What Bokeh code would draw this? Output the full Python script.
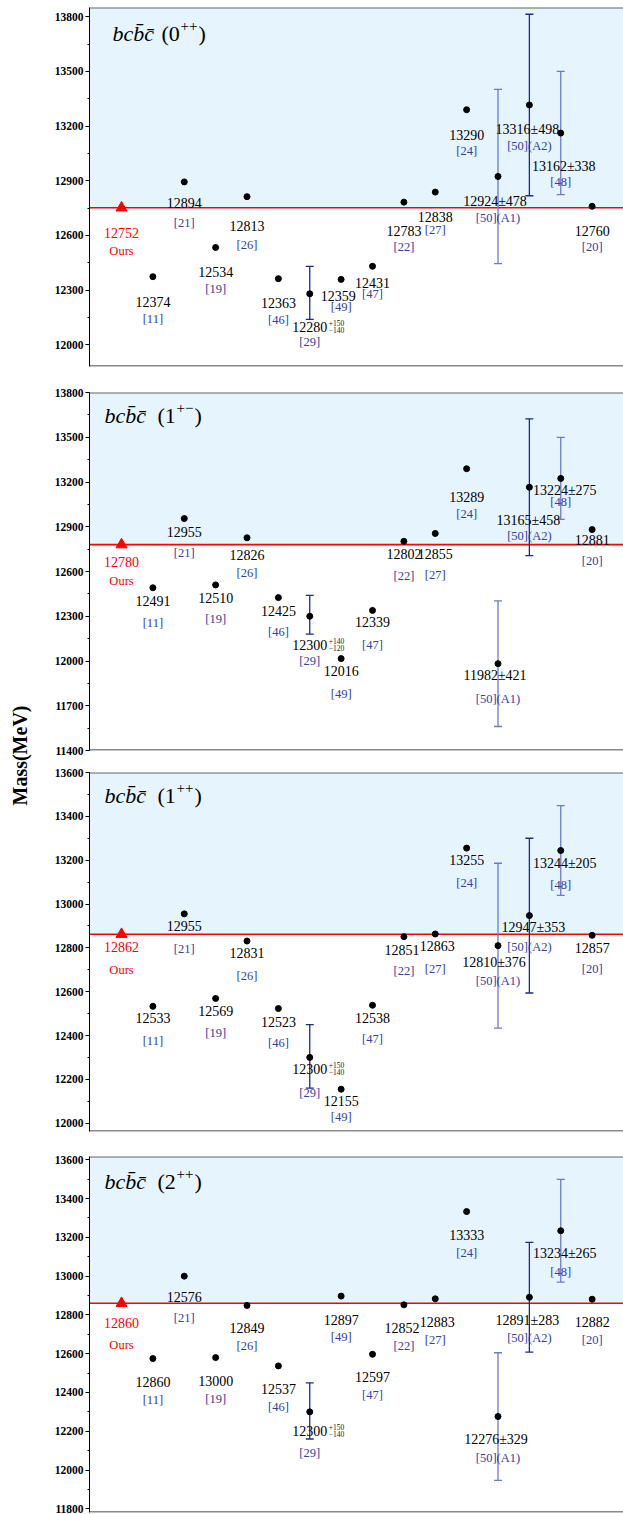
import math
from bokeh.plotting import figure
from bokeh.layouts import row, column
from bokeh.models import ColumnDataSource, Range1d, FixedTicker, BoxAnnotation, Span, Whisker, TeeHead
from bokeh.core.properties import value
from bokeh.embed import file_html
from bokeh.resources import INLINE

# ---------------- data ----------------
refs = ["Ours", "[11]", "[21]", "[19]", "[26]", "[46]", "[29]", "[49]", "[47]",
        "[22]", "[27]", "[24]", "[50](A1)", "[50](A2)", "[48]", "[20]"]
state_j = ["0", "1", "1", "2"]
state_pc = ["++", "+\u2212", "++", "++"]
quark = "bcb\u0304c\u0304"

mass_0pp = [12752, 12374, 12894, 12534, 12813, 12363, 12280, 12359, 12431, 12783, 12838, 13290, 12924, 13316, 13162, 12760]
up_0pp = [0, 0, 0, 0, 0, 0, 150, 0, 0, 0, 0, 0, 478, 498, 338, 0]
dn_0pp = [0, 0, 0, 0, 0, 0, 140, 0, 0, 0, 0, 0, 478, 498, 338, 0]

mass_1pm = [12780, 12491, 12955, 12510, 12826, 12425, 12300, 12016, 12339, 12802, 12855, 13289, 11982, 13165, 13224, 12881]
up_1pm = [0, 0, 0, 0, 0, 0, 140, 0, 0, 0, 0, 0, 421, 458, 275, 0]
dn_1pm = [0, 0, 0, 0, 0, 0, 120, 0, 0, 0, 0, 0, 421, 458, 275, 0]

mass_1pp = [12862, 12533, 12955, 12569, 12831, 12523, 12300, 12155, 12538, 12851, 12863, 13255, 12810, 12947, 13244, 12857]
up_1pp = [0, 0, 0, 0, 0, 0, 150, 0, 0, 0, 0, 0, 376, 353, 205, 0]
dn_1pp = [0, 0, 0, 0, 0, 0, 140, 0, 0, 0, 0, 0, 376, 353, 205, 0]

mass_2pp = [12860, 12575, 13000, 12580, 12849, 12537, 12300, 12897, 12597, 12852, 12883, 13333, 12276, 12891, 13234, 12881]
up_2pp = [0, 0, 0, 0, 0, 0, 150, 0, 0, 0, 0, 0, 329, 283, 265, 0]
dn_2pp = [0, 0, 0, 0, 0, 0, 140, 0, 0, 0, 0, 0, 329, 283, 265, 0]
# printed labels of the 2++ panel (as shown in the figure)
text_2pp = ["12860", "12860", "12576", "13000", "12849", "12537", "12300", "12897", "12597",
            "12852", "12883", "13333", "12276\u00b1329", "12891\u00b1283", "13234\u00b1265", "12882"]

ticks_0pp = [12000, 12300, 12600, 12900, 13200, 13500, 13800]
ticks_1pm = [11400, 11700, 12000, 12300, 12600, 12900, 13200, 13500, 13800]
ticks_1pp = [12000, 12200, 12400, 12600, 12800, 13000, 13200, 13400, 13600]
ticks_2pp = [11800, 12000, 12200, 12400, 12600, 12800, 13000, 13200, 13400, 13600]

# which error bars are drawn in the lighter blue
light_bar = [False] * 12 + [True, False, True, False]

# ---------------- layout / style ----------------
SERIF = "Liberation Serif"
BLUE_TXT = "#33409f"
DARK_BAR = "#1f2a8c"
LIGHT_BAR = "#6c7cc6"
FILL = "#e5f4fd"
X0, X1 = -1.02, 16.0

panels = [
    dict(m=mass_0pp, up=up_0pp, dn=dn_0pp, txt=None, ticks=ticks_0pp, step=150,
         yr=(11881, 13851), h=378, bt=7, bb=12, tdx=(23, 72), tdy=26,
         vdy=[25, 25, 21, 24, 29, 24, 33, 17, 17, 29, 25, 25, 25, 25, 33, 25],
         rdy=[43, 42, 41, 41, 48, 41, 48, 28, 28, 45, 38, 41, 42, 41, 49, 41],
         vdx=[0, 0, 0, 0, 0, 0, 0, -3, 0, 0, 0, 0, -3, -2, 3, 0]),
    dict(m=mass_1pm, up=up_1pm, dn=dn_1pm, txt=None, ticks=ticks_1pm, step=150,
         yr=(11400, 13800), h=383, bt=14, bb=11, tdx=(15, 68), tdy=23,
         vdy=[17, 13, 13, 13, 17, 13, 29, 12, 12, 13, 21, 28, 12, 33, 12, 10],
         rdy=[36, 35, 34, 34, 35, 34, 45, 35, 35, 35, 42, 45, 35, 49, 24, 31],
         vdx=[0, 0, 0, 0, 0, 0, 0, 0, 0, 0, 0, 0, -3, -1, 4, 0]),
    dict(m=mass_1pp, up=up_1pp, dn=dn_1pp, txt=None, ticks=ticks_1pp, step=100,
         yr=(11962, 13600), h=382, bt=11, bb=12, tdx=(15, 68), tdy=23,
         vdy=[13, 12, 12, 13, 12, 13, 12, 12, 13, 13, 12, 12, 17, 12, 13, 13],
         rdy=[36, 35, 35, 35, 35, 34, 36, 28, 34, 34, 35, 35, 35, 31, 34, 34],
         vdx=[0, 0, 0, 0, 0, 0, 0, 0, 0, -2, 2, 0, -4, 4, 4, 0]),
    dict(m=mass_2pp, up=up_2pp, dn=dn_2pp, txt=text_2pp, ticks=ticks_2pp, step=100,
         yr=(11781, 13617), h=371, bt=13, bb=2, tdx=(15, 68), tdy=25,
         vdy=[20, 23, 21, 23, 23, 23, 19, 24, 23, 23, 23, 23, 23, 23, 23, 23],
         rdy=[42, 41, 42, 41, 41, 41, 41, 41, 41, 41, 41, 41, 41, 41, 41, 41],
         vdx=[0, 0, 0, 0, 0, 0, 0, 0, 0, -2, 2, 0, -2, -2, 4, 0]),
]

figs = []
for k, P in enumerate(panels):
    m, up, dn = P["m"], P["up"], P["dn"]
    n = len(m)
    xs = list(range(n))
    lo, hi = P["yr"]
    p = figure(width=585, height=P["h"], x_range=Range1d(X0, X1), y_range=Range1d(lo, hi),
               x_axis_location=None, toolbar_location=None, output_backend="svg",
               min_border_left=51, min_border_right=0, min_border_top=P["bt"],
               min_border_bottom=P["bb"])
    p.outline_line_color = None
    p.grid.visible = False
    ax = p.yaxis[0]
    t = P["ticks"]
    minor = []
    v = t[0] - P["step"]
    while v <= hi:
        if v >= lo:
            minor.append(v)
        v += P["step"]
    ax.ticker = FixedTicker(ticks=t, minor_ticks=minor)
    ax.major_tick_in = 0
    ax.major_tick_out = 4
    ax.minor_tick_in = 0
    ax.minor_tick_out = 2
    ax.major_label_standoff = 2
    ax.axis_line_color = "black"
    ax.major_tick_line_color = "black"
    ax.minor_tick_line_color = "black"
    ax.major_label_text_font = SERIF
    ax.major_label_text_font_style = "bold"
    ax.major_label_text_font_size = "11.5px"
    ax.major_label_text_color = "black"

    ours = m[0]
    p.add_layout(BoxAnnotation(bottom=ours, fill_color=FILL, fill_alpha=1.0, line_color=None, level="underlay"))
    p.add_layout(Span(location=hi, dimension="width", line_color="#666666", line_width=2, level="underlay"))
    p.add_layout(Span(location=lo, dimension="width", line_color="#8a8a8a", line_width=3, level="underlay"))
    p.add_layout(Span(location=ours, dimension="width", line_color="#ff0000", line_width=1.6, level="underlay"))

    # error bars
    for light in (False, True):
        idx = [i for i in range(n) if (up[i] > 0 or dn[i] > 0) and light_bar[i] == light]
        if not idx:
            continue
        col = LIGHT_BAR if light else DARK_BAR
        src = ColumnDataSource(dict(x=[xs[i] for i in idx], u=[m[i] + up[i] for i in idx],
                                    l=[m[i] - dn[i] for i in idx]))
        w = Whisker(base="x", upper="u", lower="l", source=src, line_color=col, line_width=1.3,
                    upper_head=TeeHead(size=8, line_color=col, line_width=1.3),
                    lower_head=TeeHead(size=8, line_color=col, line_width=1.3), level="underlay")
        p.add_layout(w)

    # points
    p.scatter(xs[1:], m[1:], size=6, color="black")
    p.scatter([xs[0]], [m[0]], marker="triangle", size=11, color="#ff0000")

    # value labels
    if P["txt"] is not None:
        vt = list(P["txt"])
    else:
        vt = []
        for i in range(n):
            if up[i] > 0 and up[i] == dn[i]:
                vt.append(f"{m[i]}\u00b1{up[i]}")
            else:
                vt.append(str(m[i]))
    vcol = ["#ff0000"] + ["black"] * (n - 1)
    vsrc = ColumnDataSource(dict(x=xs, y=m, t=vt, c=vcol, dx=P["vdx"], dy=P["vdy"]))
    p.text(x="x", y="y", text="t", source=vsrc, text_color="c", x_offset="dx", y_offset="dy",
           text_align="center", text_baseline="middle", text_font=value(SERIF), text_font_size="14px")
    rcol = ["#ff0000"] + [BLUE_TXT] * (n - 1)
    rsrc = ColumnDataSource(dict(x=xs, y=m, t=refs, c=rcol, dy=P["rdy"]))
    p.text(x="x", y="y", text="t", source=rsrc, text_color="c", y_offset="dy",
           text_align="center", text_baseline="middle", text_font=value(SERIF), text_font_size="12.5px")

    # asymmetric error superscripts
    for i in range(n):
        if up[i] > 0 and up[i] != dn[i]:
            p.text(x=[xs[i]], y=[m[i]], text=[f"+{up[i]}"], x_offset=19, y_offset=P["vdy"][i] - 4,
                   text_align="left", text_baseline="middle", text_font=value(SERIF),
                   text_font_size="7.5px", text_color="#222222")
            p.text(x=[xs[i]], y=[m[i]], text=[f"\u2212{dn[i]}"], x_offset=19, y_offset=P["vdy"][i] + 3,
                   text_align="left", text_baseline="middle", text_font=value(SERIF),
                   text_font_size="7.5px", text_color="#222222")

    # panel title
    tx, ty = P["tdx"], P["tdy"]
    common = dict(text_align="left", text_baseline="middle", text_font=value(SERIF), text_color="black")
    p.text(x=[X0], y=[hi], text=[quark], x_offset=tx[0], y_offset=ty,
           text_font_style="italic", text_font_size="22px", **common)
    p.text(x=[X0], y=[hi], text=["(" + state_j[k]], x_offset=tx[1], y_offset=ty,
           text_font_size="22px", **common)
    p.text(x=[X0], y=[hi], text=[state_pc[k]], x_offset=tx[1] + 19, y_offset=ty - 8,
           text_font_size="15px", **common)
    p.text(x=[X0], y=[hi], text=[")"], x_offset=tx[1] + 37, y_offset=ty,
           text_font_size="22px", **common)
    figs.append(p)

total_h = sum(P["h"] for P in panels)
lab = figure(width=38, height=total_h, x_range=Range1d(0, 38), y_range=Range1d(0, total_h),
             x_axis_location=None, y_axis_location=None, toolbar_location=None,
             output_backend="svg", min_border=0)
lab.outline_line_color = None
lab.grid.visible = False
lab.text(x=[19], y=[total_h - 755], text=["Mass(MeV)"], angle=math.pi / 2,
         text_align="center", text_baseline="middle", text_font=value(SERIF),
         text_font_style="bold", text_font_size="20px", text_color="black")

layout = row(lab, column(*figs))
open("out.html", "w").write(file_html(layout, INLINE))
